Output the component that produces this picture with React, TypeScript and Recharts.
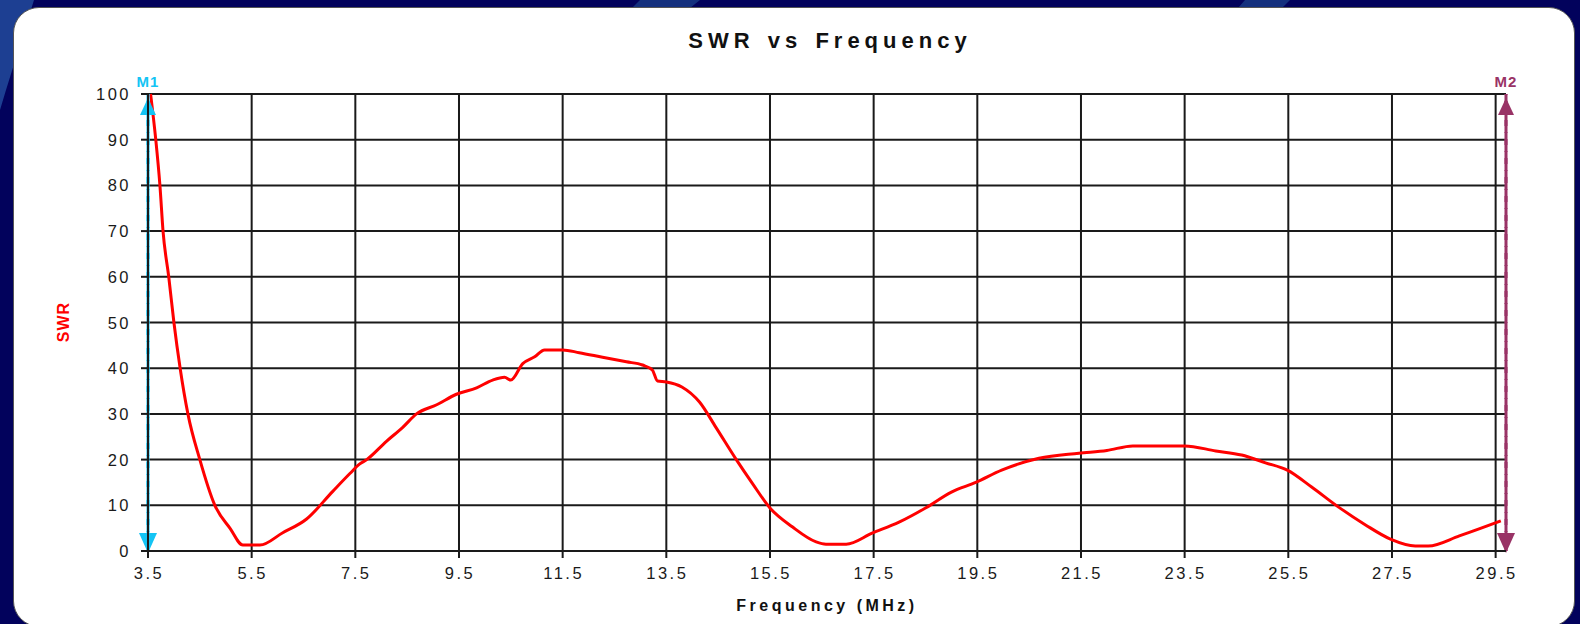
import React from 'react';
import { LineChart, Line, XAxis, YAxis, CartesianGrid, ReferenceLine } from 'recharts';

// SWR sweep (MHz, SWR)
const freqMHz = [
  3.55, 3.65, 3.73, 3.79, 3.9, 4.0, 4.12, 4.27, 4.5, 4.79, 5.08, 5.33, 5.66, 6.1, 6.56, 7.06, 7.4, 7.58, 7.72,
  8.1, 8.41, 8.68, 9.07, 9.45, 9.84, 10.15, 10.38, 10.5, 10.73, 10.96, 11.15, 11.5, 11.82, 12.27, 12.73, 13.04,
  13.23, 13.33, 13.5, 13.8, 14.14, 14.46, 14.85, 15.16, 15.5, 15.93, 16.39, 16.58, 16.97, 17.47, 17.99, 18.5,
  19.0, 19.47, 19.97, 20.69, 21.46, 22.0, 22.5, 23.5, 24.1, 24.6, 25.06, 25.48, 25.95, 26.47, 26.99, 27.47,
  27.95, 28.2, 28.8, 29.22, 29.6,
];
const swrValues = [
  100, 90, 80, 70, 60, 50, 40, 30, 20, 10, 5, 1.3, 1.3, 4, 7, 13, 17, 19, 20,
  24, 27, 30, 32, 34.3, 35.7, 37.4, 38, 37.4, 41, 42.5, 44, 44, 43.4, 42.4, 41.4, 40.7,
  39.6, 37.2, 37, 35.9, 32.6, 27, 20, 14.8, 9.4, 5.3, 2, 1.5, 1.5, 3.9, 6.3, 9.4,
  12.9, 15, 17.7, 20.3, 21.4, 22, 23, 23, 21.9, 21, 19.3, 17.7, 14, 9.6, 5.7, 2.6,
  1.1, 1.1, 3.3, 5, 6.6,
];
const xTicks = [3.5, 5.5, 7.5, 9.5, 11.5, 13.5, 15.5, 17.5, 19.5, 21.5, 23.5, 25.5, 27.5, 29.5];
const yTicks = [0, 10, 20, 30, 40, 50, 60, 70, 80, 90, 100];
const markers = [
  { name: 'M1', freq: 3.5, color: '#14c4f4' },
  { name: 'M2', freq: 29.7, color: '#993366' },
];

const data = freqMHz.map((f, i) => ({ f, swr: swrValues[i] }));

const FONT = '"Liberation Sans", Arial, sans-serif';

const XTick = (props: any) => {
  const { x, y, payload } = props;
  return (
    <text x={x + 1} y={y} dy={19} textAnchor="middle" fill="#1a1a1a" fontSize={16.5} fontFamily={FONT}
      style={{ letterSpacing: '2.5px' }}>
      {payload.value}
    </text>
  );
};

const YTick = (props: any) => {
  const { x, y, payload } = props;
  return (
    <text x={x - 8} y={y} dy={6} textAnchor="end" fill="#1a1a1a" fontSize={16.5} fontFamily={FONT}
      style={{ letterSpacing: '2.5px' }}>
      {payload.value}
    </text>
  );
};

// marker decoration: dashed line on top of the axis, arrowheads and name
const markerLabel = (name: string, color: string) => (props: any) => {
  const { viewBox } = props;
  if (!viewBox) return null;
  const cx = viewBox.x;
  const top = viewBox.y;
  const bottom = viewBox.y + viewBox.height;
  return (
    <g>
      <line x1={cx} y1={top} x2={cx} y2={bottom} stroke={color} strokeWidth={3} strokeDasharray="13 6" />
      <text x={cx} y={top - 7} textAnchor="middle" fill={color} fontSize={15} fontWeight="bold"
        fontFamily={FONT} style={{ letterSpacing: '1px' }}>
        {name}
      </text>
      <polygon points={`${cx},${top + 4} ${cx - 8},${top + 21} ${cx + 8},${top + 21}`} fill={color} />
      <polygon points={`${cx},${bottom + 2} ${cx - 9},${bottom - 18} ${cx + 9},${bottom - 18}`} fill={color} />
    </g>
  );
};

export default function App() {
  return (
    <div style={{ position: 'absolute', left: 0, top: 0, width: 1580, height: 624, overflow: 'hidden', background: '#02025c' }}>
      {/* slide background streaks */}
      <svg width={1580} height={624} style={{ position: 'absolute', left: 0, top: 0 }}>
        <polygon points="0,0 34,0 6,90 0,110" fill="#1d3f92" />
        <polygon points="640,0 700,0 690,8 632,8" fill="#14307e" />
        <polygon points="1245,0 1290,0 1282,8 1238,8" fill="#14307e" />
      </svg>
      <div style={{
        position: 'absolute', left: 13, top: 7, width: 1562, height: 620, background: '#fff',
        border: '1px solid #555', borderRadius: 26, boxSizing: 'border-box',
      }} />
      <div style={{
        position: 'absolute', left: 0, width: 1660, top: 28, textAlign: 'center', fontFamily: FONT,
        fontWeight: 'bold', fontSize: 22, letterSpacing: '5px', wordSpacing: '2px', color: '#111',
      }}>
        SWR vs Frequency
      </div>
      <div style={{
        position: 'absolute', left: 0, width: 1654, top: 597, textAlign: 'center', fontFamily: FONT,
        fontWeight: 'bold', fontSize: 16, letterSpacing: '3.5px', color: '#111',
      }}>
        Frequency (MHz)
      </div>
      <div style={{
        position: 'absolute', left: 64, top: 322, transform: 'translate(-50%, -50%) rotate(-90deg)',
        fontFamily: FONT, fontWeight: 'bold', fontSize: 16, letterSpacing: '1px', color: '#ff0000',
      }}>
        SWR
      </div>
      <div style={{ position: 'absolute', left: 0, top: 0 }}>
        <LineChart width={1580} height={624} data={data} margin={{ top: 94, right: 74, bottom: 43, left: 88 }}>
          <CartesianGrid stroke="#1a1a1a" strokeWidth={2} />
          <XAxis dataKey="f" type="number" domain={[3.5, 29.7]} ticks={xTicks} tick={<XTick />}
            tickSize={7} tickMargin={2} height={30} axisLine={{ stroke: '#1a1a1a', strokeWidth: 2 }}
            tickLine={{ stroke: '#1a1a1a', strokeWidth: 2 }} interval={0} />
          <YAxis type="number" domain={[0, 100]} ticks={yTicks} tick={<YTick />} width={60}
            tickSize={7} tickMargin={2} axisLine={{ stroke: '#1a1a1a', strokeWidth: 2 }}
            tickLine={{ stroke: '#1a1a1a', strokeWidth: 2 }} interval={0} />
          <Line type="monotone" dataKey="swr" stroke="#ff0000" strokeWidth={3} dot={false}
            isAnimationActive={false} />
          {markers.map((m) => (
            <ReferenceLine key={m.name} x={m.freq} stroke={m.color} strokeWidth={3} strokeDasharray="13 6"
              ifOverflow="visible" label={markerLabel(m.name, m.color)} />
          ))}
        </LineChart>
      </div>
    </div>
  );
}
